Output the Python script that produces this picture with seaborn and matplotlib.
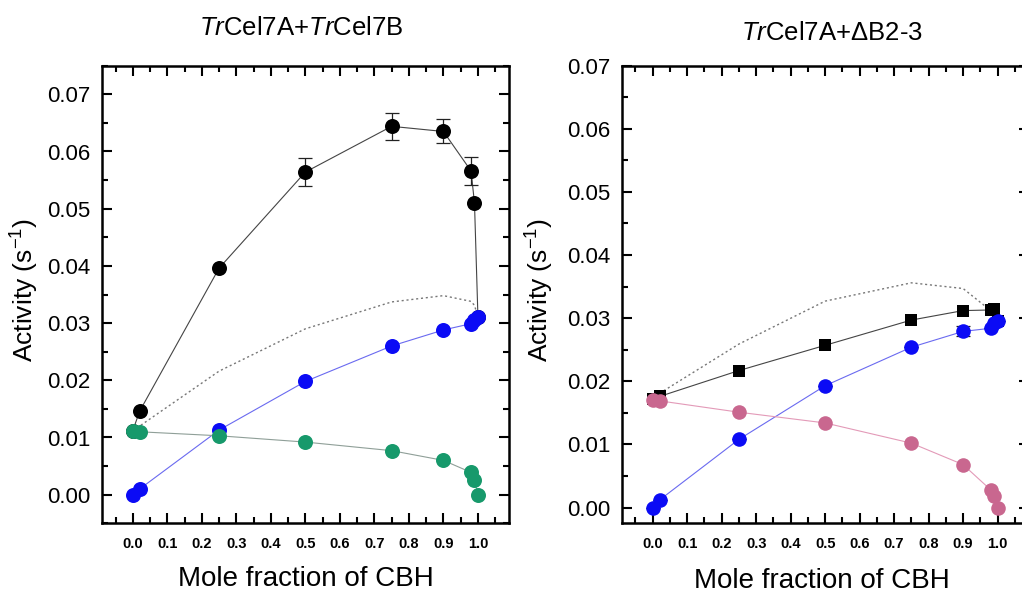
import numpy as np
import pandas as pd
import matplotlib
matplotlib.use("Agg")
import matplotlib.pyplot as plt
from matplotlib.ticker import MultipleLocator, FormatStrFormatter
import seaborn as sns

# ---- data -------------------------------------------------------------
mole_frac = [0.0, 0.02, 0.25, 0.5, 0.75, 0.9, 0.98, 0.99, 1.0]

# TrCel7A + TrCel7B
mix_7b = [0.0112, 0.0146, 0.0396, 0.0564, 0.0644, 0.0635, 0.0566, 0.0510, 0.0311]
mix_7b_err = [0.0, 0.0, 0.0, 0.0024, 0.0024, 0.0021, 0.0024, 0.0, 0.0]
cel7a_a = [0.0, 0.0010, 0.0113, 0.0198, 0.0260, 0.0288, 0.0299, 0.0305, 0.0311]
cel7b = [0.0112, 0.0110, 0.0103, 0.0092, 0.0077, 0.0060, 0.0039, 0.0026, 0.0]

# TrCel7A + deltaB2-3
mix_db = [0.0172, 0.0176, 0.0217, 0.0257, 0.0297, 0.0312, 0.0313, 0.0314, 0.0296]
cel7a_b = [0.0, 0.0012, 0.0108, 0.0193, 0.0254, 0.0279, 0.0284, 0.0292, 0.0296]
cel7a_b_err = [0.0, 0.0, 0.0, 0.0, 0.0, 0.0008, 0.0, 0.0, 0.0]
db23 = [0.0170, 0.0169, 0.0151, 0.0134, 0.0102, 0.0068, 0.0028, 0.0019, 0.0]

xtick_vals = [0.0, 0.1, 0.2, 0.3, 0.4, 0.5, 0.6, 0.7, 0.8, 0.9, 1.0]

# ---- style ------------------------------------------------------------
sns.set_theme(style="ticks")
plt.rcParams["font.family"] = ["Liberation Sans", "DejaVu Sans"]
plt.rcParams["mathtext.fontset"] = "custom"
plt.rcParams["mathtext.rm"] = "Liberation Sans"
plt.rcParams["mathtext.it"] = "Liberation Sans:italic"
plt.rcParams["axes.unicode_minus"] = False
for key in ("text.color", "axes.labelcolor", "xtick.color", "ytick.color",
            "xtick.labelcolor", "ytick.labelcolor", "axes.edgecolor"):
    plt.rcParams[key] = "black"

W, H = 1022, 595
fig = plt.figure(figsize=(W / 100, H / 100), dpi=100)
fig.patch.set_facecolor("white")


def px_axes(x0, x1, ytop, ybot):
    return fig.add_axes([x0 / W, (H - ybot) / H, (x1 - x0) / W, (ybot - ytop) / H])


ax1 = px_axes(101.7, 509.0, 65.7, 523.3)
ax2 = px_axes(621.7, 1028.6, 65.7, 523.3)

BLUE = "#0b0bf5"
BLUE_LINE = "#6a6af0"
GREEN = "#17996b"
GREEN_LINE = "#8f9f98"
PINK = "#c9678f"
PINK_LINE = "#e39ab8"
DOT = "#777777"


def series(ax, y, line_color, marker_color, marker="o", size=10.0, z=3, yerr=None):
    df = pd.DataFrame({"x": mole_frac, "y": y})
    sns.lineplot(data=df, x="x", y="y", ax=ax, color=line_color, linewidth=0.8,
                 sort=False, errorbar=None, zorder=z)
    if yerr is not None:
        ax.errorbar(mole_frac, y, yerr=yerr, fmt="none", ecolor="#222222",
                    elinewidth=0.9, capsize=5, capthick=0.9, zorder=z)
    sns.scatterplot(data=df, x="x", y="y", ax=ax, color=marker_color, marker=marker,
                    s=size ** 2, linewidth=0, zorder=z + 0.5)


def theory(ax, a, b):
    total = np.array(a) + np.array(b)
    sns.lineplot(x=mole_frac, y=total, ax=ax, color=DOT, linewidth=1.0,
                 linestyle=(0, (1.5, 2.0)), sort=False, errorbar=None, zorder=2)


# left panel
theory(ax1, cel7a_a, cel7b)
series(ax1, mix_7b, "#444444", "black", "o", 10.8, z=3, yerr=mix_7b_err)
series(ax1, cel7a_a, BLUE_LINE, BLUE, "o", 10.8, z=4)
series(ax1, cel7b, GREEN_LINE, GREEN, "o", 10.8, z=5)

# right panel
theory(ax2, cel7a_b, db23)
series(ax2, mix_db, "#444444", "black", "s", 8.8, z=3)
series(ax2, cel7a_b, BLUE_LINE, BLUE, "o", 10.5, z=4, yerr=cel7a_b_err)
series(ax2, db23, PINK_LINE, PINK, "o", 10.5, z=5)

ax1.set_ylim(-0.005, 0.075)
ax2.set_ylim(-0.0025, 0.070)

for ax in (ax1, ax2):
    ax.set_xlim(-0.09, 1.09)
    ax.set_xticks(xtick_vals)
    ax.xaxis.set_major_formatter(FormatStrFormatter("%.1f"))
    ax.xaxis.set_minor_locator(MultipleLocator(0.05))
    ax.yaxis.set_major_locator(MultipleLocator(0.01))
    ax.yaxis.set_minor_locator(MultipleLocator(0.005))
    ax.yaxis.set_major_formatter(FormatStrFormatter("%.2f"))
    ax.tick_params(which="both", direction="in", top=True, right=True, width=1.5,
                   color="black", labelcolor="black")
    ax.tick_params(which="major", length=7)
    ax.tick_params(which="minor", length=4)
    ax.tick_params(axis="x", which="major", labelsize=10.5, pad=10)
    ax.tick_params(axis="y", which="major", labelsize=16, pad=8)
    for lab in ax.get_xticklabels():
        lab.set_fontweight("bold")
    for sp in ax.spines.values():
        sp.set_visible(True)
        sp.set_linewidth(1.8)
        sp.set_color("black")
    ax.set_xlabel("")
    ax.set_ylabel("")
    ax.set_facecolor("white")

# axis titles and labels
fig.text(301 / W, 1 - 35 / H, r"$\mathit{Tr}$Cel7A+$\mathit{Tr}$Cel7B", fontsize=18.5,
         ha="center", va="baseline", color="black")
fig.text(832 / W, 1 - 40 / H, r"$\mathit{Tr}$Cel7A+ΔB2-3", fontsize=18.5,
         ha="center", va="baseline", color="black")
fig.text(306 / W, 1 - 586 / H, "Mole fraction of CBH", fontsize=20,
         ha="center", va="baseline", color="black")
fig.text(822 / W, 1 - 588 / H, "Mole fraction of CBH", fontsize=20,
         ha="center", va="baseline", color="black")
fig.text(25 / W, 1 - 290 / H, r"Activity (s$^{-1}$)", fontsize=19, rotation=90,
         ha="center", va="center", color="black")
fig.text(540 / W, 1 - 290 / H, r"Activity (s$^{-1}$)", fontsize=19, rotation=90,
         ha="center", va="center", color="black")

fig.savefig("out.png", dpi=100, facecolor="white")
